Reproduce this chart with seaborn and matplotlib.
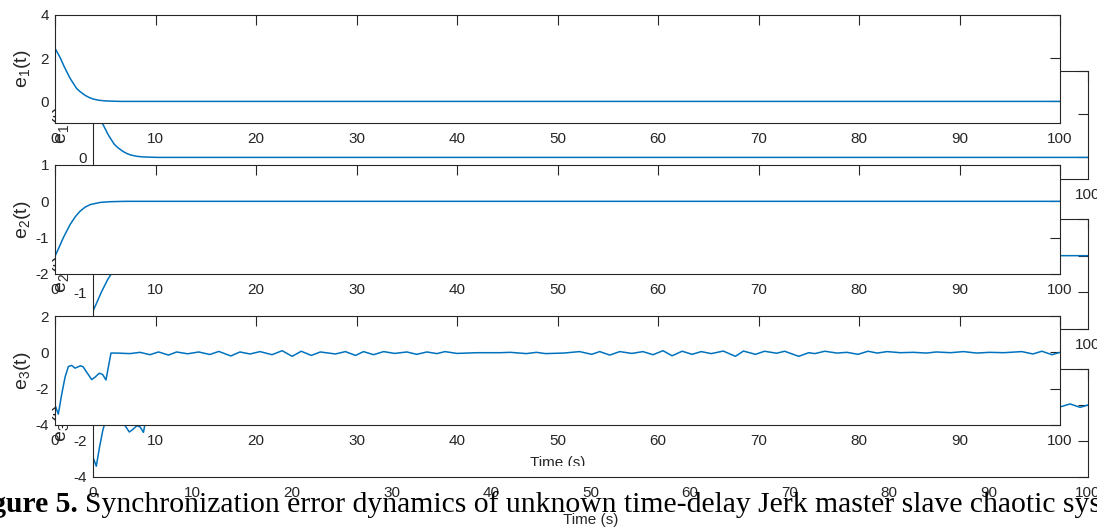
import matplotlib
matplotlib.use("Agg")
import matplotlib.pyplot as plt
from matplotlib.patches import Rectangle
import pandas as pd
import seaborn as sns

# Synchronization errors e1(t), e2(t), e3(t) of the master/slave Jerk system
t_e1 = [0.0, 0.25, 0.5, 0.75, 1.0, 1.25, 1.5, 1.8, 2.15, 2.5, 3.0, 3.4, 3.8, 4.4, 5.1, 6.5, 8.0, 100.0]
e1_vals = [2.46, 2.25, 2.04, 1.78, 1.53, 1.30, 1.07, 0.85, 0.60, 0.45, 0.28, 0.18, 0.11, 0.05, 0.02, 0.0, 0.0, 0.0]

t_e2 = [0.0, 0.4, 0.83, 1.2, 1.5, 2.0, 2.5, 3.0, 3.5, 4.5, 5.5, 7.0, 100.0]
e2_vals = [-1.51, -1.27, -1.0, -0.80, -0.64, -0.43, -0.27, -0.16, -0.09, -0.03, -0.01, 0.0, 0.0]

t_e3 = [0.0, 0.33, 0.67, 1.0, 1.33, 1.66, 1.99, 2.55, 2.8, 3.15, 3.65, 3.98, 4.41, 4.74, 5.07,
        5.57, 6.1, 7.46, 8.46, 9.45, 10.3, 11.3, 12.1, 13.2, 14.3, 15.4, 16.3, 17.5, 18.4,
        19.4, 20.4, 21.6, 22.6, 23.6, 24.5, 25.5, 26.4, 27.9, 28.9, 29.9, 30.7, 31.7, 32.7,
        33.8, 35.0, 36.0, 37.0, 38.0, 38.8, 40.0, 42.0, 44.3, 45.3, 46.9, 47.9, 48.8, 50.6,
        52.2, 53.4, 54.2, 55.2, 56.2, 57.4, 58.5, 59.5, 60.5, 61.4, 62.4, 63.4, 64.3, 65.3,
        66.5, 67.7, 68.5, 69.7, 70.6, 71.8, 72.6, 74.0, 75.0, 75.6, 76.6, 77.8, 78.8, 79.9,
        80.9, 81.8, 82.8, 84.1, 85.4, 86.7, 87.7, 89.1, 90.4, 91.7, 93.0, 94.4, 96.2, 97.3,
        98.2, 99.2, 100.0]
e3_vals = [-2.9, -3.4, -2.3, -1.37, -0.78, -0.72, -0.87, -0.74, -0.8, -1.09, -1.5, -1.37, -1.15, -1.22, -1.52,
           -0.04, -0.04, -0.07, 0.0, -0.13, 0.02, -0.15, 0.02, -0.08, 0.02, -0.12, 0.05, -0.2, 0.02,
           -0.09, 0.04, -0.13, 0.09, -0.22, 0.06, -0.17, 0.02, -0.09, 0.04, -0.17, 0.04, -0.13, 0.04,
           -0.06, 0.02, -0.11, 0.02, -0.07, 0.04, -0.06, -0.02, -0.02, 0.0, -0.07, 0.0, -0.07, -0.04,
           0.04, -0.11, 0.04, -0.15, 0.04, -0.06, 0.04, -0.13, 0.09, -0.19, 0.06, -0.11, 0.04, -0.07,
           0.07, -0.22, 0.07, -0.11, 0.06, -0.05, 0.06, -0.22, -0.02, -0.07, 0.06, -0.04, 0.0, -0.11,
           0.06, -0.04, 0.04, -0.02, 0.0, -0.04, 0.02, -0.02, 0.04, -0.04, 0.0, -0.02, 0.04, -0.09,
           0.06, -0.13, 0.0]

y_limits = [(-1, 4), (-2, 1), (-4, 2)]
y_ticks = [[0, 2, 4], [-2, -1, 0, 1], [-4, -2, 0, 2]]
y_labels = [r"$\mathregular{e_1(t)}$", r"$\mathregular{e_2(t)}$", r"$\mathregular{e_3(t)}$"]
x_ticks = [0, 10, 20, 30, 40, 50, 60, 70, 80, 90, 100]
x_label = "Time (s)"
caption_bold = "Figure 5."
caption_text = "Synchronization error dynamics of unknown time-delay Jerk master slave chaotic system"

W, H = 1097, 529
LINE = "#0072BD"
INK = "#262626"

sns.set_style("white")
plt.rcParams["font.family"] = ["Liberation Sans", "DejaVu Sans"]
plt.rcParams["mathtext.fontset"] = "custom"
plt.rcParams["mathtext.rm"] = "Liberation Sans"
plt.rcParams["mathtext.it"] = "Liberation Sans"
plt.rcParams["axes.unicode_minus"] = False

fig = plt.figure(figsize=(W / 100, H / 100), dpi=100)
fig.patch.set_facecolor("white")


def px_rect(x0, x1, y0, y1):
    return [x0 / W, 1 - y1 / H, (x1 - x0) / W, (y1 - y0) / H]


series = [(t_e1, e1_vals), (t_e2, e2_vals), (t_e3, e3_vals)]

# two stacked copies of the three-panel figure: the shifted one underneath
layers = [
    dict(rects=[(93, 1088, 71, 179), (93, 1088, 219, 329), (93, 1088, 369, 477)],
         z=0, ylab_x=-0.021, xlab_y=-0.333, clip=None),
    dict(rects=[(55, 1060, 15, 123), (55, 1060, 165, 274), (55, 1060, 316, 425)],
         z=1, ylab_x=-0.022, xlab_y=-0.284, clip=466),
]

for layer in layers:
    for i, (rect, (tt, ee)) in enumerate(zip(layer["rects"], series)):
        ax = fig.add_axes(px_rect(*rect))
        ax.set_zorder(layer["z"])
        ax.set_facecolor("white")
        df = pd.DataFrame({"t": tt, "e": ee})
        sns.lineplot(data=df, x="t", y="e", ax=ax, color=LINE, linewidth=1.1,
                     estimator=None, legend=False)
        ax.set_xlim(0, 100)
        ax.set_ylim(*y_limits[i])
        ax.set_xticks(x_ticks)
        ax.set_yticks(y_ticks[i])
        ax.tick_params(direction="in", length=7, width=0.8, colors=INK,
                       labelcolor=INK, labelsize=11, top=True, right=True)
        ax.tick_params(axis="x", pad=6.5)
        ax.tick_params(axis="y", pad=4.3)
        for sp in ax.spines.values():
            sp.set_visible(True)
            sp.set_color(INK)
            sp.set_linewidth(0.8)
        ax.set_ylabel(y_labels[i], fontsize=14, color=INK)
        ax.yaxis.set_label_coords(layer["ylab_x"], 0.5)
        if i == 2:
            lab = ax.set_xlabel(x_label, fontsize=11, color=INK)
            ax.xaxis.set_label_coords(0.5, layer["xlab_y"])
            if layer["clip"] is not None:
                yb = 1 - layer["clip"] / H
                lab.set_clip_path(Rectangle((0, yb), 1, 1 - yb, transform=fig.transFigure))
        else:
            ax.set_xlabel("")

base = 1 - 512 / H
fig.text(78 / W, base, caption_bold, ha="right", va="baseline", fontsize=21.3,
         fontweight="bold", family="Liberation Serif", color="black")
fig.text(85 / W, base, caption_text, ha="left", va="baseline", fontsize=21.3,
         family="Liberation Serif", color="black")

fig.savefig("out.png", dpi=100, facecolor="white")
